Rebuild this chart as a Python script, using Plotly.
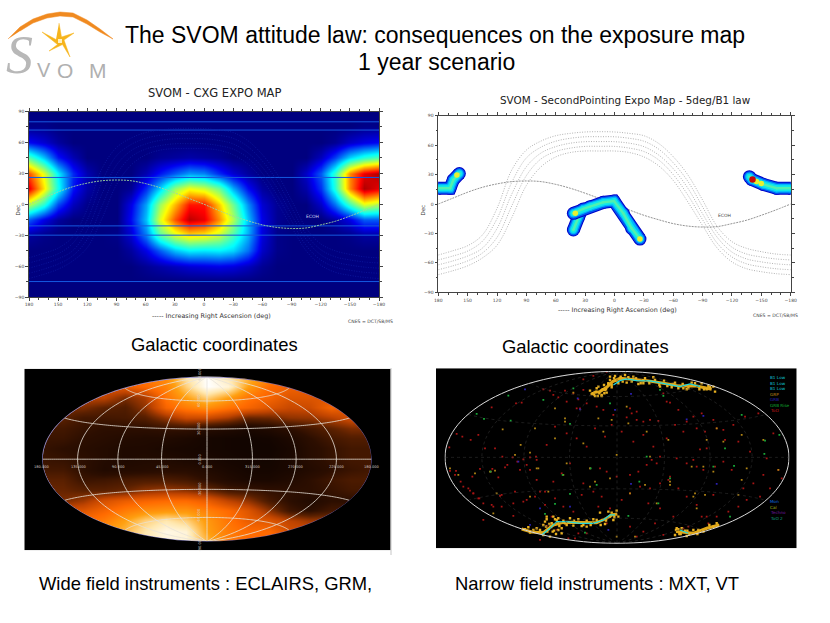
"""SVOM attitude law slide: two exposure maps and two all-sky maps."""

import plotly.graph_objects as go

W, H = 830, 623

TITLE_LINES = ["The SVOM attitude law: consequences on the exposure map", "1 year scenario"]

# --- CXG exposure map, lon 180..-180 by 15 deg, lat 90..-90 by 15 deg
cxg_lon = [180, 165, 150, 135, 120, 105, 90, 75, 60, 45, 30, 15, 0,
           -15, -30, -45, -60, -75, -90, -105, -120, -135, -150, -165, -180]
cxg_lat = [90, 75, 60, 45, 30, 15, 0, -15, -30, -45, -60, -75, -90]
cxg_z = [
    [0] * 25,
    [0.1, 0.1, 0, 0, 0, 0, 0, 0, 0, 0, 0, 0, 0, 0, 0, 0, 0, 0, 0, 0, 0, 0, 0, 0.1, 0.1],
    [1.2, 0.8, 0.3, 0, 0, 0, 0, 0, 0, 0, 0, 0, 0, 0, 0, 0, 0, 0, 0, 0, 0, 0.2, 0.7, 1, 1.2],
    [4.5, 3, 1.3, 0.5, 0, 0, 0, 0, 0, 0.2, 0.3, 0.4, 0.3, 0.2, 0, 0, 0, 0, 0, 0, 0.6, 1.7, 3.2, 4, 4.5],
    [8, 6, 3.5, 1.5, 0.5, 0, 0, 0, 0.5, 1.3, 2, 2.6, 2.4, 1.5, 0.8, 0.3, 0, 0, 0, 0.7, 2, 4.2, 7.5, 9, 9.5],
    [9, 6.5, 3.8, 1.3, 0.4, 0, 0, 0.2, 1.5, 3.2, 5.2, 6.2, 5.8, 4.8, 2.8, 1.2, 0.3, 0, 0, 0.4, 1.6, 4, 7.5, 9.5, 9],
    [5.5, 4, 1.8, 0.6, 0.1, 0, 0, 1, 2.7, 5.3, 7, 8.6, 8.6, 6.8, 4.8, 2.5, 0.8, 0.2, 0, 0, 0.7, 2.2, 4.3, 6, 5.5],
    [2, 1, 0.3, 0, 0, 0, 0, 1.2, 3, 6, 8, 9.4, 9, 7.4, 5.5, 3, 1, 0.2, 0, 0, 0, 0.4, 1, 2, 2],
    [0.3, 0.1, 0, 0, 0, 0, 0.1, 0.8, 2.3, 4.5, 5.8, 6.5, 6.3, 5.7, 4.4, 2.8, 0.9, 0.1, 0, 0, 0, 0, 0.1, 0.3, 0.3],
    [0, 0, 0, 0, 0, 0, 0, 0.3, 1, 2, 3, 3.5, 3.4, 3.5, 3.2, 2.2, 0.7, 0.1, 0, 0, 0, 0, 0, 0, 0],
    [0, 0, 0, 0, 0, 0, 0, 0, 0.2, 0.4, 0.6, 0.8, 0.9, 1, 0.9, 0.6, 0.2, 0, 0, 0, 0, 0, 0, 0, 0],
    [0] * 25,
    [0] * 25,
]
cxg_hline_lat = [80, 72, 26, -21, -30, -75]
cxg_colors = [[0, "#00007f"], [0.11, "#0000f0"], [0.36, "#00ffff"], [0.5, "#80ff80"],
              [0.63, "#ffff00"], [0.88, "#ff0000"], [1, "#780000"]]

# --- shared curves on both rectangular maps
curve_lon = cxg_lon
ecliptic_lat = [0, 6, 12, 17, 20.5, 22.8, 23.5, 22.8, 20, 16, 11, 5.5, 0,
                -6, -11.5, -16, -20, -22.5, -23.5, -23, -20, -16.5, -11.5, -6, 0]
arc_lats = [
    [-52, -47.6, -42.5, -31.6, -4.4, 34.6, 55, 64.2, 69.6, 72, 73.4, 73.7, 73.4,
     72, 69.6, 61.8, 48.2, 29.6, 4, -23, -38.4, -45.2, -48.6, -51, -52],
    [-57, -53, -48, -38, -15, 22, 47, 58, 64, 67, 68.5, 68.6, 68.5,
     67, 64, 56, 42, 23, -3, -29, -44, -51, -54, -56, -57],
    [-62, -58, -53, -45, -25, 10, 38, 52, 58.5, 62, 63.5, 63.6, 63.5,
     62, 58.5, 50, 36, 16, -10, -34, -49, -56, -59, -61, -62],
    [-67, -63, -58, -50, -34, -2, 29, 46, 53.5, 57, 58.7, 58.8, 58.7,
     57, 53.5, 45, 30, 9, -16, -40, -54, -61, -64, -66, -67],
    [-72, -68, -63, -55, -42, -14, 19, 38, 48, 52.5, 54, 54, 54,
     52.5, 48, 39, 24, 2, -22, -45, -59, -66, -69, -71, -72],
]

# --- second pointing tracks (lon, lat)
track_a_lon = [42, 37, 35]
track_a_lat = [-26.5, -14, -9]
track_b_lon = [42, 32, 25, 11.5, 0.5, -9, -17.5, -26]
track_b_lat = [-9.5, -5, -2.7, 1.7, 3, -9.5, -24.8, -35.7]
track_c_lon = [180, 168, 164.7, 158.5]
track_c_lat = [16, 16, 24.5, 31]
track_d_lon = [-137.8, -140.2, -152, -165.7, -180]
track_d_lat = [27.9, 25, 20, 16, 16]
spot_lon = [40, -26, 161, -145, -150]
spot_lat = [-9.5, -35.7, 29.5, 23, 21]
hot_lon = [-141]
hot_lat = [25]

# --- wide field sky, plane coordinates -1..1 across the ellipse
wide_u = [-1, -0.875, -0.75, -0.625, -0.5, -0.375, -0.25, -0.125, 0,
          0.125, 0.25, 0.375, 0.5, 0.625, 0.75, 0.875, 1]
wide_v = [1, 0.875, 0.75, 0.625, 0.5, 0.375, 0.25, 0.125, 0,
          -0.125, -0.25, -0.375, -0.5, -0.625, -0.75, -0.875, -1]
wide_z = [
    [6, 6, 6, 6, 6, 6.5, 7, 9, 10, 9, 8, 7, 6.5, 6.5, 6, 6, 6],
    [5, 5, 5, 5, 5.5, 6, 6.7, 8.5, 10, 9.5, 7.5, 6, 5.7, 5.5, 5.5, 5.5, 5.5],
    [4.5, 4.5, 4.5, 4.5, 3.5, 4.2, 6.3, 7.5, 8.5, 7.5, 6.3, 5.8, 5.2, 5.2, 5.2, 5, 5],
    [3.5, 3.5, 3.5, 3, 2.8, 3.8, 5.8, 6.5, 7, 6.3, 5.8, 5.2, 4.7, 4.8, 5.8, 5.2, 5],
    [3, 3, 2.5, 2.5, 2.6, 2.9, 3.9, 4.8, 4.8, 4.2, 3.2, 3.3, 3.8, 3.9, 4.4, 5, 5],
    [2.5, 2.5, 2.2, 2, 2, 2, 2.2, 2.2, 1.8, 1.5, 1.2, 1.5, 2, 2.5, 3, 3.5, 3.5],
    [2.3, 2.3, 2, 1.8, 1.6, 1.5, 1.5, 1.3, 1, 0.9, 0.8, 0.9, 1.3, 2, 2.5, 2.8, 2.8],
    [2.2, 2, 1.8, 1.6, 1.4, 1.4, 1.2, 1.1, 1, 0.9, 0.8, 0.8, 1.1, 1.8, 2.2, 2.5, 2.5],
    [2.3, 2.2, 2, 1.6, 1.4, 1.5, 1.5, 1.3, 1.2, 1, 0.9, 0.9, 1.2, 1.8, 2.2, 2.5, 2.5],
    [2.5, 2.5, 2, 1.5, 1.6, 1.7, 1.8, 1.8, 1.5, 1.2, 1, 1, 1.2, 1.6, 2, 2.3, 2.5],
    [3, 3, 2.3, 2.4, 2.6, 2.7, 2.7, 2.5, 2, 1.5, 1.2, 1.2, 1.5, 2, 2.4, 2.7, 2.7],
    [3.2, 3.2, 3, 3, 3.2, 3.8, 4, 3.8, 3.3, 2.6, 2.4, 2.1, 2, 2, 2.2, 2.5, 2.5],
    [3.5, 3.5, 4, 5, 5.5, 5.8, 6, 6, 5.5, 4.5, 3.8, 2.6, 2, 1.5, 2, 2, 2],
    [5, 5, 5.2, 5.8, 6.5, 7, 7.2, 7.2, 6.6, 6, 5.2, 3.8, 2.4, 2, 2.5, 2.5, 2.5],
    [6, 6, 6, 6.5, 7.5, 8.5, 9, 8.5, 7.3, 6.3, 5.5, 5.2, 4.5, 4, 4, 4, 4],
    [7, 7, 7, 7.5, 8, 9, 9.7, 9.5, 7.5, 6.5, 6, 6, 5, 5, 5, 5, 5],
    [8, 8, 8, 8, 8, 9, 9.5, 9.5, 8, 6.5, 6, 6, 6, 5.5, 5.5, 5.5, 5.5],
]
wide_colors = [[0, "#000000"], [0.1, "#160600"], [0.2, "#2c0e00"], [0.3, "#5a2000"], [0.45, "#c04400"],
               [0.6, "#ff6a00"], [0.75, "#ffa010"], [0.9, "#ffe8b0"], [1, "#ffffff"]]
wide_lon_labels = ["180.000", "135.000", "90.000", "45.000", "0.000", "315.000", "270.000", "225.000", "180.000"]
wide_lon_label_u = [-1, -0.78, -0.54, -0.27, 0, 0.277, 0.54, 0.79, 1]
wide_lat_labels = ["90.000", "60.000", "30.000", "0.000", "-30.000", "-60.000", "-90.000"]
wide_lat_label_v = [1.03, 0.71, 0.37, 0, -0.36, -0.68, -1.03]

# --- narrow field sky, positions read in the plane of the picture
too_x = [58, 80, 97, 122, 145, 165, 195, 217, 248, 280, 318, 60, 78, 92, 127, 150, 148, 120, 130, 187,
         183, 205, 225, 232, 262, 270, 300, 320, 185, 275, 258, 340, 360, 385, 405, 445, 490, 530, 460, 470,
         440, 500, 520, 550, 600, 605, 590, 620, 640, 660, 685, 710, 720, 700, 745, 770, 800, 825, 860, 885,
         925, 960, 1010, 1045, 1000, 970, 940, 905, 880, 855, 830, 810, 790, 770, 740, 720, 690, 665, 680, 650,
         625, 600, 560, 530, 510, 480, 460, 420, 395, 370, 345, 320, 300, 290, 255, 210, 185, 160, 130, 115,
         100, 75, 350, 375, 410, 440, 470, 495, 525, 545, 575, 610, 640, 670, 710, 735, 760, 790, 815, 850,
         880, 910, 945, 985, 1030, 1055, 1020, 990, 950, 925, 895, 860, 835, 800, 770, 745, 715, 690, 660, 630,
         600, 575, 540, 515, 490, 455, 430, 400, 375, 345, 315, 280, 250, 215, 190, 160, 145, 215, 250, 290,
         330, 370, 410, 450, 620, 655, 690, 730, 775, 815, 850, 530, 505, 470, 445, 415, 380, 350, 330, 365,
         640, 675, 700, 760, 830, 820, 800, 430, 460, 435, 620, 600]
too_y = [262, 222, 230, 240, 225, 265, 265, 290, 292, 298, 290, 333, 333, 365, 350, 327, 415, 392, 400, 327,
         335, 352, 322, 315, 305, 330, 292, 300, 142, 128, 130, 88, 92, 112, 92, 118, 48, 36, 58, 130,
         145, 140, 150, 165, 145, 160, 172, 180, 185, 180, 183, 125, 128, 100, 150, 185, 205, 215, 205, 240,
         245, 275, 295, 330, 345, 370, 385, 330, 305, 320, 265, 268, 300, 310, 295, 350, 290, 300, 310, 315,
         335, 345, 350, 335, 325, 325, 370, 310, 340, 365, 395, 360, 330, 315, 395, 408, 435, 430, 400, 385,
         380, 345, 255, 200, 220, 235, 260, 205, 230, 195, 215, 245, 225, 260, 235, 195, 215, 170, 160, 180,
         210, 195, 170, 160, 220, 355, 385, 410, 420, 440, 455, 470, 490, 435, 410, 385, 360, 370, 385, 380,
         400, 420, 445, 410, 395, 405, 455, 440, 415, 435, 410, 425, 468, 405, 440, 480, 415, 440, 430, 420,
         395, 105, 125, 145, 155, 430, 445, 470, 500, 470, 405, 490, 440, 520, 520, 535, 510, 498, 540, 470,
         515, 490, 525, 505, 470, 330, 320, 100, 90, 535, 530, 500]
gold_x = [272, 405, 315, 375, 325, 180, 218, 430, 405, 375, 505, 545, 595, 650, 715, 830, 880, 935, 1000, 860,
          785, 660, 560, 480, 320, 195, 60, 85, 135, 200, 300, 355, 400, 480, 540, 600, 645, 720, 795, 825,
          850, 935, 1045, 590, 520, 460, 410, 300, 255, 190, 615, 680, 720, 790, 925, 950, 820, 800, 560, 495]
gold_y = [255, 175, 205, 235, 325, 335, 208, 98, 185, 145, 175, 180, 190, 215, 240, 240, 245, 225, 240, 205,
          320, 290, 285, 325, 325, 332, 325, 345, 340, 400, 410, 395, 345, 380, 355, 400, 375, 365, 400, 405,
          335, 360, 330, 140, 215, 250, 310, 278, 285, 460, 530, 430, 375, 410, 405, 325, 320, 445, 530, 365]
grb_x = [285, 443, 450, 555, 603, 770, 820, 265, 300, 330, 420, 535, 603, 860]
grb_y = [88, 115, 148, 150, 102, 178, 168, 305, 495, 445, 440, 510, 372, 372]
rise_x = [235, 140, 162, 242, 340, 430, 420, 540, 700, 690, 885, 1005, 1048, 912, 850, 720, 650, 628, 595, 420,
          375, 345, 398, 482, 182, 500, 465, 685, 935, 900, 1003]
rise_y = [107, 162, 177, 182, 120, 85, 192, 130, 108, 90, 265, 242, 225, 318, 320, 355, 290, 365, 468, 402,
          432, 462, 345, 325, 335, 375, 518, 430, 165, 470, 282]
band_top_x = [490, 510, 530, 548, 570, 600, 650, 700, 750, 800, 845]
band_top_y = [98, 95, 82, 65, 55, 58, 62, 70, 78, 78, 88]
band_low_x = [275, 305, 340, 370, 400, 450, 500, 530, 545, 562]
band_low_y = [507, 516, 518, 495, 487, 488, 488, 475, 465, 462]
band_right_x = [738, 760, 790, 830, 868]
band_right_y = [515, 517, 520, 505, 495]
speck_x = [480, 495, 515, 530, 540, 555, 585, 625, 670, 725, 770, 815, 840, 350, 385, 355, 395, 378, 420, 470,
           525, 550, 740, 770, 805, 350, 365, 380, 510, 560, 590, 485, 500, 522, 545, 540, 565, 610, 640, 690,
           735, 760, 785, 830, 850, 855, 525, 535, 515, 505, 340, 330, 395, 405, 370, 345, 430, 445, 490, 540,
           565, 535, 735, 755, 790, 820, 850, 745, 300, 285, 320, 360, 410, 460,
           488, 498, 508, 518, 528, 492, 503, 513, 523, 535, 545, 552, 560, 572, 578, 595, 605, 618, 632, 645,
           658, 675, 688, 702, 712, 730, 745, 758, 775, 795, 808, 822, 835, 348, 358, 368, 375, 388, 400, 432,
           455, 470, 482, 500, 512, 528, 545, 553, 340, 352, 362, 372, 385, 325, 310, 295, 748, 765, 778, 802,
           815, 838, 860, 738, 752, 772]
speck_y = [92, 108, 105, 98, 50, 48, 45, 72, 52, 82, 88, 70, 82, 478, 475, 508, 505, 522, 475, 500,
           492, 480, 505, 528, 510, 470, 490, 480, 458, 452, 68, 102, 85, 75, 75, 60, 70, 50, 70, 80,
           68, 85, 68, 88, 80, 95, 90, 70, 108, 80, 495, 510, 520, 490, 470, 485, 497, 478, 478, 470,
           470, 455, 525, 505, 510, 515, 500, 508, 518, 508, 505, 530, 495, 495,
           100, 95, 100, 88, 88, 104, 108, 92, 100, 72, 82, 55, 62, 50, 65, 52, 65, 55, 70, 55,
           70, 60, 75, 62, 78, 72, 85, 72, 85, 70, 88, 88, 78, 500, 492, 515, 478, 498, 482, 482,
           498, 482, 495, 480, 495, 482, 458, 472, 525, 515, 500, 512, 510, 518, 510, 502, 522, 512, 522, 522,
           512, 495, 490, 510, 522, 512]
cyan_top_x = [550, 570, 590, 620, 660, 700, 750, 780, 810]
cyan_top_y = [75, 62, 57, 62, 63, 70, 80, 72, 80]
cyan_low_x = [335, 360, 380, 410, 450, 490, 520, 540, 555]
cyan_low_y = [525, 505, 485, 485, 490, 490, 480, 465, 465]
cyan_right_x = [750, 775]
cyan_right_y = [510, 520]
legend_top = ["B1 Low", "B1 Low", "B1 Low", "GRP", "GRB", "GRB Rise", "ToO"]
legend_top_colors = ["#10c8d8", "#10c8d8", "#10c8d8", "#c89018", "#2a20b0", "#10b030", "#c81818"]
legend_bottom = ["Mon", "Cal", "Techno", "ToO 2"]
legend_bottom_colors = ["#1070e0", "#a0b018", "#7018a0", "#10a080"]

# --- logo, in page pixels
arc_x = [8, 20, 33, 47, 60, 73, 87, 100, 113, 100, 87, 73, 60, 47, 33, 20]
arc_y = [39, 27, 19, 14, 12, 13, 20, 29, 39, 32, 24, 17, 16, 18, 23, 31]
star_x = [59, 61.5, 74, 64, 70, 62.5, 49, 57.5, 42, 56]
star_y = [23, 37, 33, 40, 57, 44.5, 51, 44.5, 32, 39.5]


def dom_x(left, right):
    return [left / W, right / W]


def dom_y(top, bottom):
    return [1 - bottom / H, 1 - top / H]


def add_rect_map(fig, n, left, right, top, bottom, grid_color, grid_dash, ecliptic_color, label):
    anchor_x, anchor_y = f"x{n}", f"y{n}"
    for lats in arc_lats:
        fig.add_trace(go.Scatter(x=curve_lon, y=lats, mode="lines", xaxis=anchor_x, yaxis=anchor_y,
                                 line=dict(color=grid_color, width=0.7, dash=grid_dash, shape="spline")))
    fig.add_trace(go.Scatter(x=curve_lon, y=ecliptic_lat, mode="lines", xaxis=anchor_x, yaxis=anchor_y,
                             line=dict(color=ecliptic_color, width=0.9, dash="2px,1px", shape="spline")))
    axis_style = dict(showgrid=False, zeroline=False, showline=True, linecolor="#444444", linewidth=0.6,
                      mirror="ticks", ticks="outside", ticklen=3, tickwidth=0.5, tickcolor="#444444",
                      tickfont=dict(family="DejaVu Sans", size=4.5, color="#444444"))
    fig.update_layout({
        f"xaxis{n}": dict(axis_style, domain=dom_x(left, right), range=[180, -180], anchor=anchor_y,
                          tickvals=[180, 150, 120, 90, 60, 30, 0, -30, -60, -90, -120, -150, -180],
                          minor=dict(tickvals=list(range(-180, 181, 10)), ticks="outside", ticklen=2,
                                     tickwidth=0.4, tickcolor="#444444")),
        f"yaxis{n}": dict(axis_style, domain=dom_y(top, bottom), range=[-90, 90], anchor=anchor_x,
                          tickvals=[-90, -60, -30, 0, 30, 60, 90],
                          minor=dict(tickvals=list(range(-90, 91, 15)), ticks="outside", ticklen=2,
                                     tickwidth=0.4, tickcolor="#444444")),
    })
    fig.add_annotation(x=-112, y=-12, xref=anchor_x, yref=anchor_y, text=label, showarrow=False,
                       font=dict(family="DejaVu Sans", size=4.5, color="#cfd8ef" if n == 1 else "#444444"))


def add_tracks(fig, lons, lats):
    layers = [("#0000c8", 13), ("#0058f0", 11), ("#00b4ff", 8.5), ("#10e8e8", 6), ("#50f0b0", 2.5)]
    for color, width in layers:
        fig.add_trace(go.Scatter(x=lons, y=lats, mode="lines+markers", xaxis="x2", yaxis="y2",
                                 line=dict(color=color, width=width),
                                 marker=dict(color=color, size=width)))


fig = go.Figure()

# CXG map
fig.add_trace(go.Heatmap(x=cxg_lon, y=cxg_lat, z=cxg_z, zmin=0, zmax=10, zsmooth="best",
                         colorscale=cxg_colors, showscale=False, xaxis="x1", yaxis="y1"))
for lat in cxg_hline_lat:
    fig.add_trace(go.Scatter(x=[180, -180], y=[lat, lat], mode="lines", xaxis="x1", yaxis="y1",
                             line=dict(color="#1458e0", width=1)))
add_rect_map(fig, 1, 29, 379, 111.5, 297, "#101ea8", "1px,1.5px", "#a0d8a0", "ECOH")

# second pointing map
add_rect_map(fig, 2, 438.3, 790.7, 115.7, 292.3, "#909090", "1px,1.5px", "#888888", "ECOH")
add_tracks(fig, track_a_lon, track_a_lat)
add_tracks(fig, track_b_lon, track_b_lat)
add_tracks(fig, track_c_lon, track_c_lat)
add_tracks(fig, track_d_lon, track_d_lat)
fig.add_trace(go.Scatter(x=spot_lon, y=spot_lat, mode="markers", xaxis="x2", yaxis="y2",
                         marker=dict(color="#e8f030", size=5.5)))
fig.add_trace(go.Scatter(x=hot_lon, y=hot_lat, mode="markers", xaxis="x2", yaxis="y2",
                         marker=dict(color="#c80808", size=6.5)))

# wide field sky
fig.add_trace(go.Heatmap(x=wide_u, y=wide_v, z=wide_z, zmin=0, zmax=10, zsmooth="best",
                         colorscale=wide_colors, showscale=False, xaxis="x3", yaxis="y3"))
hidden = dict(visible=False, showgrid=False, zeroline=False)
fig.update_layout(
    xaxis3=dict(hidden, domain=dom_x(24.3, 390.7), range=[-1.109, 1.115], anchor="y3"),
    yaxis3=dict(hidden, domain=dom_y(368.7, 550.3), range=[-1.107, 1.095], anchor="x3"),
    geo=dict(
        domain=dict(x=dom_x(42.3, 371.7), y=dom_y(376.7, 541.7)),
        projection=dict(type="hammer"), bgcolor="rgba(0,0,0,0)",
        showland=False, showocean=False, showlakes=False, showrivers=False,
        showcountries=False, showcoastlines=False, showframe=True,
        framecolor="#6a68c8", framewidth=0.8,
        lonaxis=dict(showgrid=True, dtick=45, gridcolor="#e8e2d8", gridwidth=0.8),
        lataxis=dict(showgrid=True, dtick=30, gridcolor="#e8e2d8", gridwidth=0.8),
    ),
    geo2=dict(
        domain=dict(x=dom_x(445, 789), y=dom_y(371, 543.7)),
        projection=dict(type="hammer"), bgcolor="rgba(0,0,0,0)",
        showland=False, showocean=False, showlakes=False, showrivers=False,
        showcountries=False, showcoastlines=False, showframe=True,
        framecolor="#d8d8d8", framewidth=1,
        lonaxis=dict(showgrid=True, dtick=45, gridcolor="#3c3c3c", gridwidth=0.5, griddash="dot"),
        lataxis=dict(showgrid=True, dtick=30, gridcolor="#3c3c3c", gridwidth=0.5, griddash="dot"),
    ),
)
fig.add_trace(go.Scattergeo(lon=[0], lat=[0], mode="markers", marker=dict(size=0.1, color="#e8e2d8"), geo="geo"))
fig.add_trace(go.Scattergeo(lon=[0], lat=[0], mode="markers", marker=dict(size=0.1, color="#505050"), geo="geo2"))

K = 0.5523
fig.add_shape(type="path", xref="x3", yref="y3", layer="above", fillcolor="#000000", line_width=0,
              path=(f"M-1.109,-1.107 L1.115,-1.107 L1.115,1.095 L-1.109,1.095 Z "
                    f"M-1,0 C-1,{K} -{K},1 0,1 C{K},1 1,{K} 1,0 C1,-{K} {K},-1 0,-1 C-{K},-1 -1,-{K} -1,0 Z"))
fig.add_shape(type="line", xref="paper", yref="paper", x0=391 / W, x1=391 / W, y0=1 - 555 / H, y1=1 - 368 / H,
              line=dict(color="#b8b8b8", width=0.8))
for label, u in zip(wide_lon_labels, wide_lon_label_u):
    fig.add_annotation(x=u, y=-0.1, xref="x3", yref="y3", text=label, showarrow=False,
                       font=dict(family="DejaVu Sans", size=3.6, color="#d8d0c8"))
for label, v in zip(wide_lat_labels, wide_lat_label_v):
    fig.add_annotation(x=-0.045, y=v, xref="x3", yref="y3", text=label, showarrow=False, textangle=-90,
                       font=dict(family="DejaVu Sans", size=3.6, color="#d8d0c8"))

# narrow field sky
fig.update_layout(
    xaxis4=dict(hidden, domain=dom_x(436, 796.7), range=[18, 1100], anchor="y4"),
    yaxis4=dict(hidden, domain=dom_y(368.3, 548.3), range=[565, 25], anchor="x4"),
)
fig.add_shape(type="rect", xref="x4", yref="y4", x0=18, x1=1100, y0=25, y1=565, layer="below",
              fillcolor="#000000", line_width=0)
for xs, ys in [(band_top_x, band_top_y), (band_low_x, band_low_y), (band_right_x, band_right_y)]:
    fig.add_trace(go.Scatter(x=xs, y=ys, mode="lines", xaxis="x4", yaxis="y4",
                             line=dict(color="#e0a818", width=3)))
for xs, ys, color, size in [(too_x, too_y, "#a81414", 1.8), (gold_x, gold_y, "#b08414", 1.8),
                            (grb_x, grb_y, "#2a20b0", 1.8), (rise_x, rise_y, "#18a838", 1.8),
                            (speck_x, speck_y, "#e8b020", 2.4)]:
    fig.add_trace(go.Scatter(x=xs, y=ys, mode="markers", xaxis="x4", yaxis="y4",
                             marker=dict(color=color, size=size, symbol="square")))
for xs, ys in [(cyan_top_x, cyan_top_y), (cyan_low_x, cyan_low_y), (cyan_right_x, cyan_right_y)]:
    fig.add_trace(go.Scatter(x=xs, y=ys, mode="lines", xaxis="x4", yaxis="y4",
                             line=dict(color="#20d8e0", width=1.2)))
for i, (label, color) in enumerate(zip(legend_top, legend_top_colors)):
    fig.add_annotation(x=1014, y=54 + i * 16.3, xref="x4", yref="y4", text=label, showarrow=False, xanchor="left",
                       font=dict(family="DejaVu Sans", size=4.2, color=color))
for i, (label, color) in enumerate(zip(legend_bottom, legend_bottom_colors)):
    fig.add_annotation(x=1014, y=426 + i * 16.3, xref="x4", yref="y4", text=label, showarrow=False, xanchor="left",
                       font=dict(family="DejaVu Sans", size=4.2, color=color))

# logo
fig.update_layout(
    xaxis5=dict(hidden, domain=[0, 130 / W], range=[0, 130], anchor="y5"),
    yaxis5=dict(hidden, domain=dom_y(0, 90), range=[90, 0], anchor="x5"),
)
fig.add_trace(go.Scatter(x=arc_x, y=arc_y, mode="lines", fill="toself", fillcolor="#f08a20", xaxis="x5", yaxis="y5",
                         line=dict(color="#f08a20", width=0.5)))
fig.add_trace(go.Scatter(x=star_x, y=star_y, mode="lines", fill="toself", fillcolor="#f6b41c", xaxis="x5", yaxis="y5",
                         line=dict(color="#f6b41c", width=0.5)))
fig.add_trace(go.Scatter(x=[60], y=[41], mode="markers", xaxis="x5", yaxis="y5",
                         marker=dict(color="#fff0c0", size=4, symbol="square")))


def page_text(x, y, text, size, color="#000000", family="Liberation Sans", anchor="center"):
    fig.add_annotation(x=x / W, y=1 - y / H, xref="paper", yref="paper", text=text, showarrow=False, xanchor=anchor,
                       yanchor="middle", font=dict(family=family, size=size, color=color))


page_text(19, 55, "<i>S</i>", 54, "#b8b8b8", "Liberation Sans Narrow")
page_text(44, 70, "V", 20, "#b0b0b0")
page_text(65, 70, "O", 21, "#b0b0b0")
page_text(98, 70, "M", 21, "#b0b0b0")

page_text(435, 35, TITLE_LINES[0], 23)
page_text(436, 62, TITLE_LINES[1], 23)
page_text(214, 93, "SVOM - CXG EXPO MAP", 11.5, "#222222", "DejaVu Sans")
page_text(625, 100, "SVOM - SecondPointing Expo Map - 5deg/B1 law", 10.4, "#222222", "DejaVu Sans")
page_text(211, 316, "----- Increasing Right Ascension (deg)", 6.4, "#333333", "DejaVu Sans")
page_text(617, 310, "----- Increasing Right Ascension (deg)", 6.4, "#333333", "DejaVu Sans")
page_text(370, 321, "CNES = DCT/SB/MS", 4.6, "#444444", "DejaVu Sans")
page_text(775, 315, "CNES = DCT/SB/MS", 4.6, "#444444", "DejaVu Sans")
fig.add_annotation(x=12 / W, y=1 - 203 / H, xref="paper", yref="paper", text="Dec", textangle=-90, showarrow=False,
                   font=dict(family="DejaVu Sans", size=5.5, color="#333333"))
fig.add_annotation(x=422 / W, y=1 - 203 / H, xref="paper", yref="paper", text="Dec", textangle=-90, showarrow=False,
                   font=dict(family="DejaVu Sans", size=5.5, color="#333333"))
page_text(214, 344, "Galactic coordinates", 18.4)
page_text(585.5, 346, "Galactic coordinates", 18.4)
page_text(205, 583, "Wide field instruments : ECLAIRS, GRM,", 18.4)
page_text(597, 583, "Narrow field instruments : MXT, VT", 18.4)

fig.update_layout(width=W, height=H, margin=dict(l=0, r=0, t=0, b=0, autoexpand=False), showlegend=False,
                  paper_bgcolor="white", plot_bgcolor="white", hovermode=False)

fig.write_html("out.html", config={"displayModeBar": False}, post_script="document.body.style.margin='0';")
